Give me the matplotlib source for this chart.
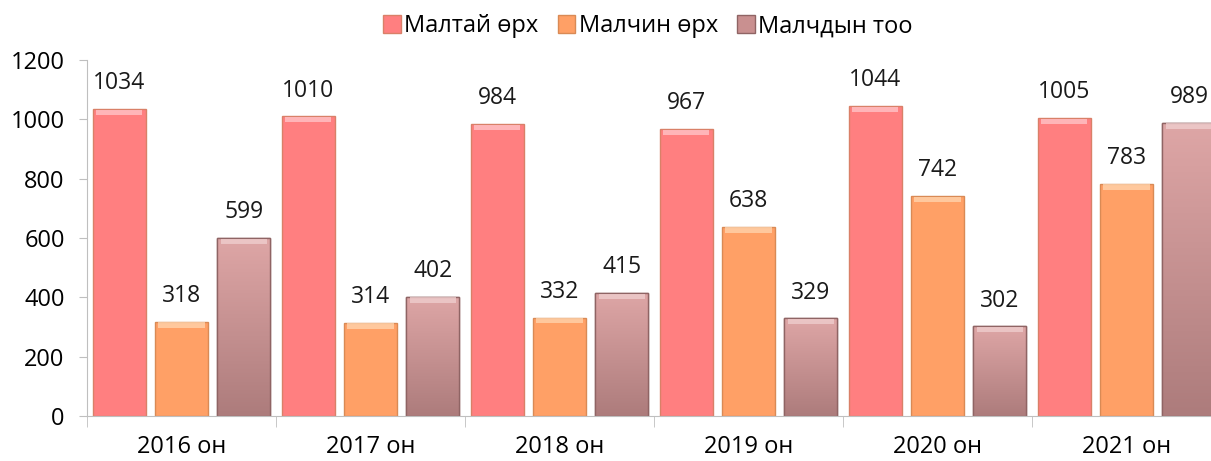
import numpy as np
import matplotlib.pyplot as plt
from matplotlib.patches import Patch
from matplotlib.colors import LinearSegmentedColormap

plt.rcParams['font.family'] = ['Open Sans', 'DejaVu Sans']

years = ["2016 он", "2017 он", "2018 он", "2019 он", "2020 он", "2021 он"]
series = ["Малтай өрх", "Малчин өрх", "Малчдын тоо"]
maltai = [1034, 1010, 984, 967, 1044, 1005]
malchin = [318, 314, 332, 638, 742, 783]
malchid = [599, 402, 415, 329, 302, 989]

colors = ["#FF7F80", "#FFA066", "#C99090"]
edges = ["#D98068", "#D98A55", "#8F6464"]
tops = ["#FFC8CC", "#FFD6B0", "#F0D0D0"]

fig = plt.figure(figsize=(12.11, 4.61), dpi=100)
ax = fig.add_axes([0.0718, 0.0976, 0.9365, 0.772])

x = np.arange(len(years))
w = 0.28
offs = [-0.33, 0.0, 0.33]
grad = LinearSegmentedColormap.from_list("g", ["#DEA6A6", "#AD7C7C"])

for i, vals in enumerate([maltai, malchin, malchid]):
    bars = ax.bar(x + offs[i], vals, w, color=colors[i], edgecolor=edges[i],
                  linewidth=1.0, zorder=2)
    if i == 2:
        for b in bars:
            x0, y0 = b.get_x(), b.get_y()
            im = ax.imshow(np.linspace(0, 1, 100).reshape(-1, 1), cmap=grad,
                           aspect='auto', zorder=2.1,
                           extent=[x0, x0 + b.get_width(), y0, y0 + b.get_height()],
                           origin='upper')
            im.set_clip_path(b)
            ax.bar(b.get_x() + b.get_width() / 2, b.get_height(), w,
                   fill=False, edgecolor=edges[i], linewidth=1.0, zorder=2.2)
    ax.bar(x + offs[i], [18] * len(vals), w * 0.88, bottom=np.array(vals) - 20,
           color=tops[i], linewidth=0, zorder=2.3, alpha=0.75)
    for xi, v in zip(x + offs[i], vals):
        ax.annotate(str(v), (xi, v), xytext=(0, 10), textcoords='offset points',
                    ha='center', va='bottom', fontsize=16.5, color='#1a1a1a')

ax.set_xlim(-0.5, len(years) - 0.5)
ax.set_ylim(0, 1200)
ax.set_yticks(range(0, 1201, 200))
ax.set_xticks(x)
ax.set_xticklabels(years)
ax.set_xticks(np.arange(-0.5, len(years), 1), minor=True)
ax.tick_params(axis='x', which='major', length=0, labelsize=17, pad=14)
ax.tick_params(axis='x', which='minor', length=8, color='#BFBFBF', direction='out')
ax.tick_params(axis='y', length=6, color='#BFBFBF', labelsize=17, pad=10)
for s in ['top', 'right']:
    ax.spines[s].set_visible(False)
ax.spines['left'].set_color('#BFBFBF')
ax.spines['bottom'].set_color('#BFBFBF')

handles = [Patch(facecolor=c, edgecolor=e) for c, e in zip(colors, edges)]
fig.legend(handles, series, loc='upper center', bbox_to_anchor=(0.535, 1.015), ncol=3,
           frameon=False, fontsize=17, handlelength=0.75, handleheight=0.75,
           handletextpad=0.15, columnspacing=0.8)

fig.savefig("out.png", dpi=100)
